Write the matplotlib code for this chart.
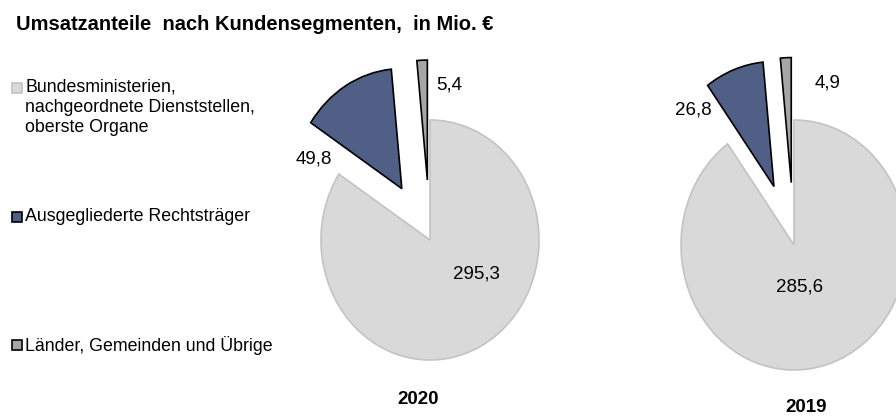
import matplotlib
matplotlib.use("Agg")
import matplotlib.pyplot as plt
from matplotlib.patches import Rectangle

plt.rcParams['font.family'] = ['Liberation Sans', 'DejaVu Sans']

# data
segments = ['Bundesministerien,\nnachgeordnete Dienststellen,\noberste Organe',
            'Ausgegliederte Rechtsträger',
            'Länder, Gemeinden und Übrige']
years = ['2020', '2019']
values_2020 = [295.3, 49.8, 5.4]
values_2019 = [285.6, 26.8, 4.9]

colors = ['#d9d9d9', '#4f5f86', '#a6a6a6']
edges = ['#c3c3c3', '#000000', '#000000']
explode = [0, 0.5, 0.5]

W, H = 896, 416
fig = plt.figure(figsize=(W / 100, H / 100), dpi=100)

# pie geometry in pixels: center x, center y (from top), radius x, radius y
pies = [
    (values_2020, (430, 240, 109, 120)),
    (values_2019, (794, 245, 113, 125)),
]
# label offsets in radius units, per slice
label_pos = [
    [(0.43, -0.28), (-1.07, 0.675), (0.18, 1.29)],
    [(0.05, -0.34), (-0.89, 1.08), (0.30, 1.30)],
]
year_pos = [(418, 400), (806, 407)]


def fmt(v):
    return f'{v:.1f}'.replace('.', ',')


for i, (vals, (cx, cy, rx, ry)) in enumerate(pies):
    ax = fig.add_axes([0, 0, 1, 1])
    ax.pie(vals, colors=colors, explode=explode, startangle=90, counterclock=False,
           wedgeprops=dict(linewidth=1.2))
    for w, ec in zip(ax.patches, edges):
        w.set_edgecolor(ec)
    ax.set_aspect('auto')
    ax.set_xlim(-cx / rx, (W - cx) / rx)
    ax.set_ylim(-(H - cy) / ry, cy / ry)
    ax.axis('off')
    for v, (lx, ly) in zip(vals, label_pos[i]):
        ax.text(lx, ly, fmt(v), ha='center', va='center', fontsize=13.5, color='#000000')
    yx, yy = year_pos[i]
    fig.text(yx / W, 1 - yy / H, years[i], ha='center', va='center',
             fontsize=13.5, fontweight='bold')

# title
fig.text(16 / W, 1 - 25 / H, 'Umsatzanteile  nach Kundensegmenten,  in Mio. €',
         ha='left', va='center', fontsize=14.5, fontweight='bold')

# legend
legend_y = [88, 217, 345]
for lab, c, ec, y in zip(segments, colors, edges, legend_y):
    fig.patches.append(Rectangle((12 / W, 1 - (y + 5) / H), 10 / W, 10 / H,
                                 transform=fig.transFigure, facecolor=c,
                                 edgecolor=ec, linewidth=1.2))
    fig.text(25 / W, 1 - (y - 9) / H, lab, ha='left', va='top',
             fontsize=12.8, linespacing=1.25)

fig.savefig('out.png', dpi=100)
